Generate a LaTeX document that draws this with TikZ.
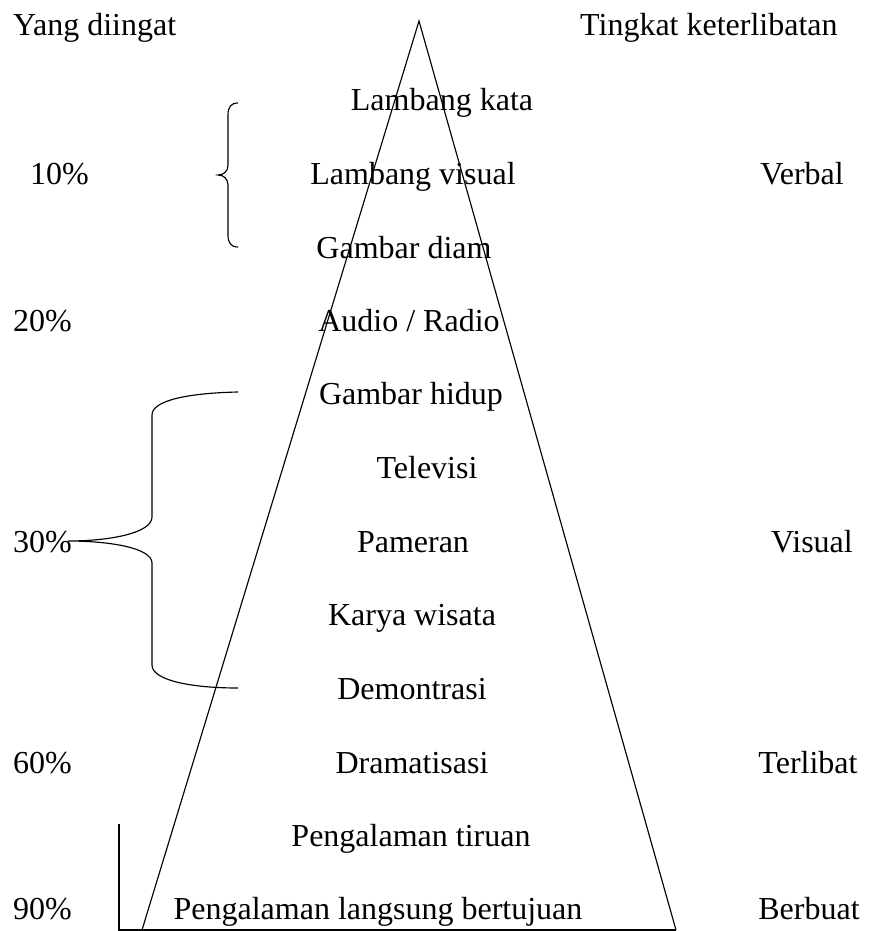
\documentclass[tikz,border=0pt]{standalone}
\usepackage{fontspec}
\setmainfont{Liberation Serif}
\begin{document}
\begin{tikzpicture}[x=1pt,y=-1pt,
  lbl/.style={inner sep=0pt,anchor=base,font=\fontsize{32}{37}\selectfont},
  lft/.style={lbl,anchor=base west},
  ln/.style={line width=1.15pt,black}]
\useasboundingbox (0,0) rectangle (879,931);
% headings
\node[lft] (h1) at (13,36) {Yang diingat};
\node[lft] (h2) at (580,36) {Tingkat keterlibatan};
% pyramid
\coordinate (apex) at (419,21);
\coordinate (bl) at (142,930);
\coordinate (br) at (676,930);
\coordinate (vt) at (119,824);
\coordinate (vb) at (119,930);
\draw[ln] (bl) -- (apex) -- (br);
\draw[ln] (vt) -- (vb) -- (br);
% levels
\node[lbl] (l1) at (442,111) {Lambang kata};
\node[lbl] (l2) at (413,184) {Lambang visual};
\node[lbl] (l3) at (404,258) {Gambar diam};
\node[lbl] (l4) at (409,331) {Audio / Radio};
\node[lbl] (l5) at (411,404) {Gambar hidup};
\node[lbl] (l6) at (427,478) {Televisi};
\node[lbl] (l7) at (413,552) {Pameran};
\node[lbl] (l8) at (412,625) {Karya wisata};
\node[lbl] (l9) at (412,699) {Demontrasi};
\node[lbl] (l10) at (412,773) {Dramatisasi};
\node[lbl] (l11) at (411,846) {Pengalaman tiruan};
\node[lbl] (l12) at (378,919) {Pengalaman langsung bertujuan};
% percentages
\node[lft] (p10) at (30,184) {10\%};
\node[lft] (p20) at (13,331) {20\%};
\node[lft] (p30) at (13,552) {30\%};
\node[lft] (p60) at (13,773) {60\%};
\node[lft] (p90) at (13,919) {90\%};
% involvement
\node[lbl] (r1) at (802,184) {Verbal};
\node[lbl] (r2) at (812,552) {Visual};
\node[lbl] (r3) at (808,773) {Terlibat};
\node[lbl] (r4) at (809,919) {Berbuat};
% braces
\draw[ln] (238,103) .. controls (231,103) and (228,107) .. (228,115) -- (228,165)
  .. controls (228,171) and (224,175) .. (218,175)
  .. controls (224,175) and (228,179) .. (228,185) -- (228,235)
  .. controls (228,243) and (231,247) .. (238,247);
\draw[ln] (238,392) .. controls (190,393) and (152,400) .. (152,415) -- (152,517)
  .. controls (152,533) and (110,541) .. (68,541)
  .. controls (110,541) and (152,548) .. (152,563) -- (152,665)
  .. controls (152,680) and (190,688) .. (238,688);
\end{tikzpicture}
\end{document}
